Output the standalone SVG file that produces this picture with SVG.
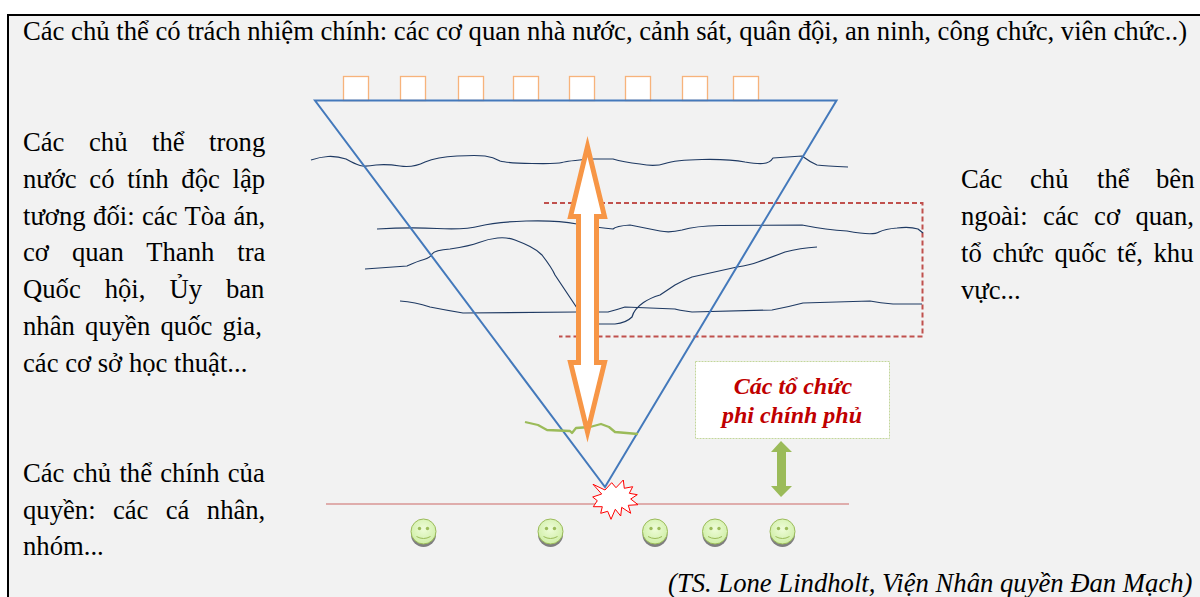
<svg xmlns="http://www.w3.org/2000/svg" width="1200" height="597" viewBox="0 0 1200 597">
<defs>
<radialGradient id="sm" cx="50%" cy="40%" r="60%"><stop offset="0" stop-color="#eefcd8"/><stop offset="1" stop-color="#cfeea6"/></radialGradient>
<g id="smile"><circle cx="0" cy="3" r="12.5" fill="#7f7f7f"/><circle cx="0" cy="0" r="12.5" fill="url(#sm)" stroke="#9bbb59" stroke-width="1"/><circle cx="-4" cy="-3" r="1.7" fill="#9bbb59"/><circle cx="4" cy="-3" r="1.7" fill="#9bbb59"/><path d="M-7 5Q0 9 7 5" fill="none" stroke="#9bbb59" stroke-width="1"/></g>
</defs>
<style>
.t{font-family:"Liberation Serif","Times New Roman",serif;font-size:26.67px;fill:#000}
.n{font-family:"Liberation Serif","Times New Roman",serif;font-size:24px;font-weight:bold;font-style:italic;fill:#c00000;text-anchor:middle}
.sq{fill:#fff;stroke:#f79646;stroke-opacity:.7;stroke-width:1.3}
.tri{fill:none;stroke:#4479bb;stroke-width:2}
.w{fill:none;stroke:#1f3a63;stroke-width:1.2;stroke-linejoin:round}
</style>
<rect width="1200" height="597" fill="#fff"/>
<rect x="8" y="15" width="1192" height="582" fill="#f2f2f2"/>
<path d="M8 597V15H1200" fill="none" stroke="#000" stroke-width="2"/>
<g id="title"><text class="t" x="23" y="40">Các chủ thể có trách nhiệm chính: các cơ quan nhà nước, cảnh sát, quân đội, an ninh, công chức, viên chức..)</text></g>
<g id="left-top">
<text class="t" x="23" y="151">Các</text><text class="t" x="89" y="151">chủ</text><text class="t" x="152" y="151">thể</text><text class="t" x="209" y="151">trong</text>
<text class="t" x="23" y="188" word-spacing="6">nước có tính độc lập</text>
<text class="t" x="23" y="225" word-spacing="0.8">tương đối: các Tòa án,</text>
<text class="t" x="23" y="261" word-spacing="16.3">cơ quan Thanh tra</text>
<text class="t" x="23" y="298" word-spacing="17.3">Quốc hội, Ủy ban</text>
<text class="t" x="23" y="335" word-spacing="3.6">nhân quyền quốc gia,</text>
<text class="t" x="23" y="372">các cơ sở học thuật...</text>
</g>
<g id="left-bottom">
<text class="t" x="23" y="482" word-spacing="1.6">Các chủ thể chính của</text>
<text class="t" x="23" y="519" word-spacing="10.7">quyền: các cá nhân,</text>
<text class="t" x="23" y="555">nhóm...</text>
</g>
<g id="right">
<text class="t" x="961" y="188">Các</text><text class="t" x="1030" y="188">chủ</text><text class="t" x="1097" y="188">thể</text><text class="t" x="1156" y="188">bên</text>
<text class="t" x="961" y="225" word-spacing="8.8">ngoài: các cơ quan,</text>
<text class="t" x="961" y="262" word-spacing="4">tổ chức quốc tế, khu</text>
<text class="t" x="961" y="299">vực...</text>
</g>
<g id="source"><text class="t" x="668" y="592" font-style="italic">(TS. Lone Lindholt, Viện Nhân quyền Đan Mạch)</text></g>
<g id="squares">
<rect class="sq" x="343.500" y="76.500" width="25" height="24"/><rect class="sq" x="400.500" y="76.500" width="25" height="24"/><rect class="sq" x="458.500" y="76.500" width="25" height="24"/><rect class="sq" x="513.500" y="76.500" width="25" height="24"/><rect class="sq" x="569.500" y="76.500" width="25" height="24"/><rect class="sq" x="625.500" y="76.500" width="25" height="24"/><rect class="sq" x="682.500" y="76.500" width="25" height="24"/><rect class="sq" x="733.500" y="76.500" width="25" height="24"/>
</g>
<g id="baseline"><path d="M326 504H849" stroke="#d99694" stroke-width="1.500" fill="none"/></g>
<g id="dashed-box"><path d="M544 203H922.500V336.500H559" fill="none" stroke="#c0504d" stroke-width="2" stroke-dasharray="5 3"/></g>
<g id="connectors">
<path class="w" d="M311 160Q320 157 328 156.500Q337 156 346 159Q355 164 360 165.500Q365 167 376 165Q387 164 400 166Q413 168 425 162Q437 157 457 156Q477 155 485 156Q493 157 500 161Q507 163 532 163.500Q557 164 562 162.500Q567 161 590 159H613Q623 162 640 164Q655 167 665 163.500Q675 160 702 159.500Q730 159 745 162Q757 164 763 163.500Q770 163 773 158L802 156Q810 162 817 165Q825 166 848 167"/>
<path class="w" d="M377 229Q410 227 437 228.500Q465 230 480 226Q495 222 526 221Q557 220 577 224Q600 228 613 229Q616 226 630 225Q650 229 660 231Q670 233 682 230Q695 226 720 225.500L802 225Q827 230 847 231Q873 236 879 232Q885 229 897 228Q910 226.500 918 229L923 233"/>
<path class="w" d="M365 269L407 266Q418 261 424 259.500Q430 258 432 254Q435 250 450 249Q470 246 479 242.500Q488 239 497.500 238Q507 237 515 240Q523 243 530 246.500Q537 250 542 255Q552 268 555 275L577 308"/>
<path class="w" d="M400 301Q415 302 430 307Q445 310 463 313L577 312L608 312Q616 310 625 307L675 309Q677 310 692 312L772 310Q788 307 803 303L870 301Q880 303 893 304H922"/>
<path class="w" d="M599 324L615 324Q626 323 632 317Q634 309 643.500 302.500Q650 298 660 295L675 285Q684 280 692 277L737 267Q750 265 758 262Q772 257 785 252Q800 248 817 247"/>
</g>
<g id="triangle"><path class="tri" d="M315 100.500H836.500L605 487L315 100.500Z"/></g>
<g id="green-line"><path d="M525 422L538 425L547 430L570 431L572 433L576 428L590 427L601 424L609 427L615 432L638 434" fill="none" stroke="#9bbb59" stroke-width="2.300" stroke-linejoin="round"/></g>
<g id="arrow"><path d="M587.500 146.500L604.500 216.500H596.500V362.500H604.500L587.500 432L570.500 362.500H578.500V216.500H570.500Z" fill="#fff" stroke="#f79646" stroke-width="5" stroke-miterlimit="10"/></g>
<g id="burst"><path d="M593 484.300L605 490L611.700 482.700L616 487.700L623.300 480L624.300 488.300L632.700 486.700L629.300 493.300L637.300 494.700L630.700 499L638 504.700L628.300 505.300L630.700 513.300L621.700 507.300L620.700 516L615.300 509.300L611 519.300L607.700 511.300L600.700 513.300L602.300 506.700L593.300 506.700L597.300 500.700L592.700 497L601.700 494Z" fill="#fff" stroke="#f00" stroke-width="1"/></g>
<g id="ngo"><rect x="695.500" y="361.500" width="194" height="77" fill="#fff" stroke="#c3d69b" stroke-dasharray="2 1"/>
<text class="n" x="793" y="394">Các tổ chức</text>
<text class="n" x="792" y="423">phi chính phủ</text></g>
<g id="double-arrow"><path d="M781 441L792 452H786V486H792L781 497L771 486H777V452H771Z" fill="#9bbb59"/></g>
<g id="people"><use href="#smile" x="423.500" y="531.500"/><use href="#smile" x="550.500" y="531.500"/><use href="#smile" x="655" y="531.500"/><use href="#smile" x="715" y="531.500"/><use href="#smile" x="782.500" y="531.500"/></g>
</svg>
